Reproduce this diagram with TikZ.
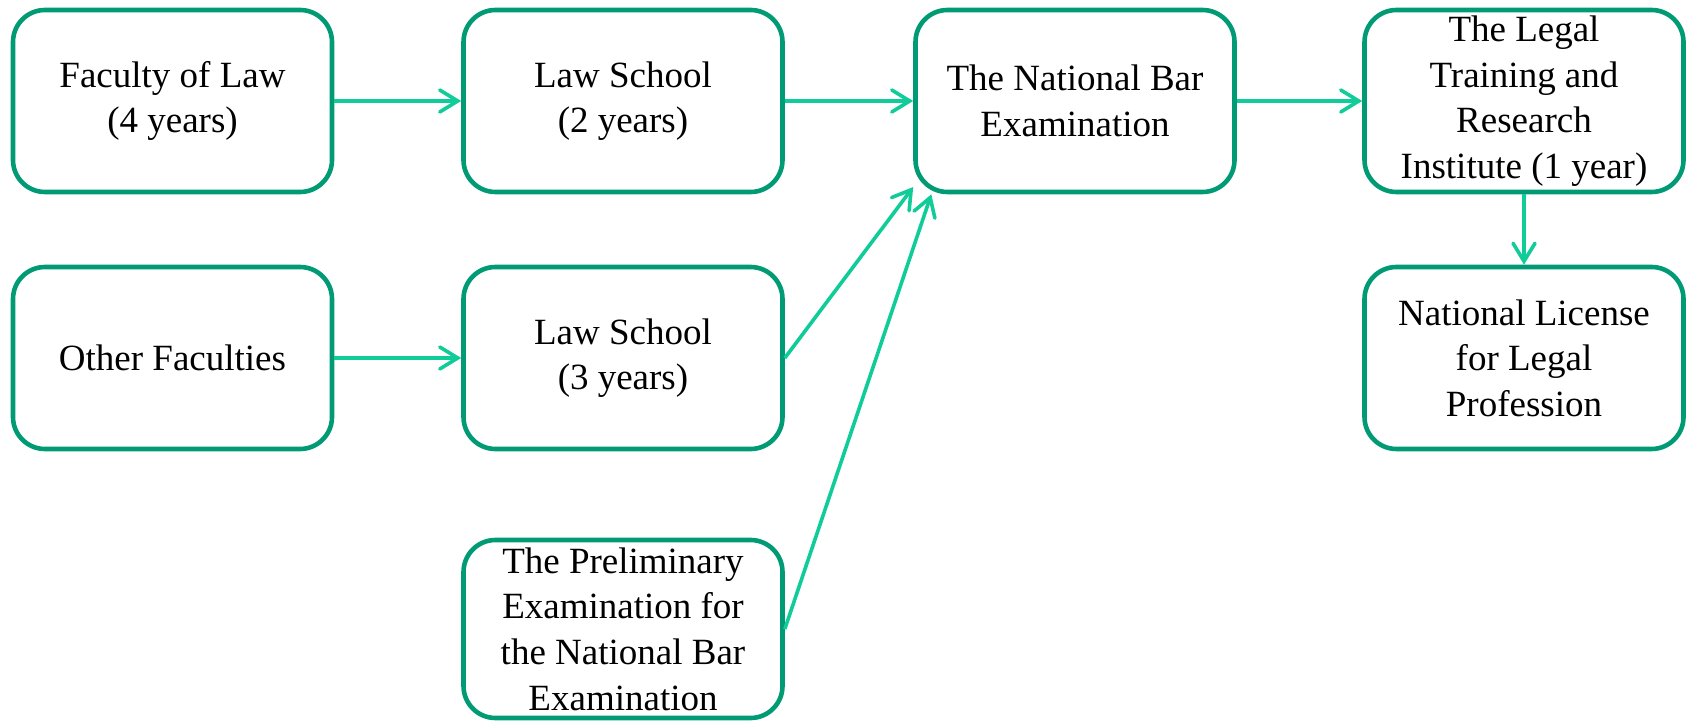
\documentclass[tikz,border=0pt]{standalone}
\usepackage{fontspec}
\setmainfont{Liberation Serif}
\usetikzlibrary{arrows.meta}
\definecolor{boxgreen}{HTML}{009B74}
\definecolor{arrowgreen}{HTML}{10CC98}
\begin{document}
\begin{tikzpicture}[x=0.5pt,y=-0.5pt,
  box/.style={draw=boxgreen, line width=2.3pt, rounded corners=16pt, fill=white,
    minimum width=159.5pt, minimum height=91pt, inner sep=0pt, align=center,
    font=\fontsize{18.5}{22.8}\selectfont},
  conn/.style={draw=arrowgreen, line width=1.8pt,
    -{Straight Barb[length=9pt,width=11pt,line cap=round]}}]
\useasboundingbox (0,0) rectangle (1692,721);
\node[box] (b1) at (172.5,101) {Faculty of Law\\(4 years)};
\node[box] (b2) at (623,101) {Law School\\(2 years)};
\node[box] (b3) at (1075,101) {The National Bar\\Examination};
\node[box] (b4) at (1524,101) {The Legal\\Training and\\Research\\Institute (1 year)};
\node[box] (b5) at (1524,358) {National License\\for Legal\\Profession};
\node[box] (b6) at (172.5,358) {Other Faculties};
\node[box] (b7) at (623,358) {Law School\\(3 years)};
\node[box, minimum height=89pt] (b8) at (623,629) {The Preliminary\\Examination for\\the National Bar\\Examination};
\draw[conn] (b1.east) -- (b2.west);
\draw[conn] (b2.east) -- (b3.west);
\draw[conn] (b3.east) -- (b4.west);
\draw[conn] (b4.south) -- (b5.north);
\draw[conn] (b6.east) -- (b7.west);
\draw[conn] (b7.east) -- (b3.208);
\draw[conn] (b8.east) -- (b3.213);
\end{tikzpicture}
\end{document}
